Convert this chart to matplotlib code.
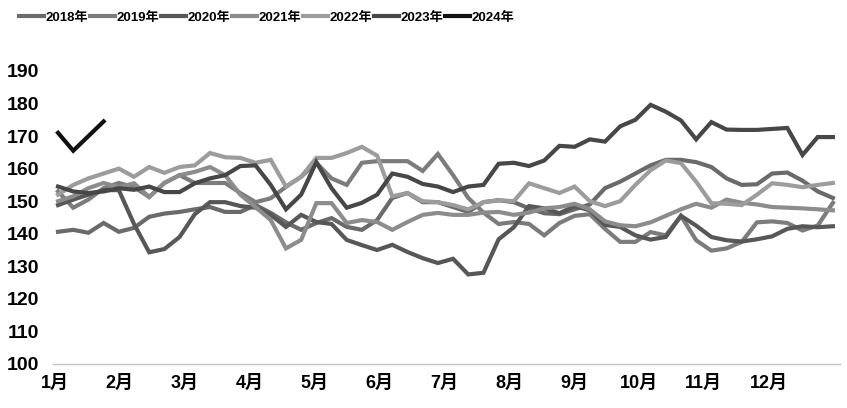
import matplotlib
matplotlib.use("Agg")
import matplotlib.pyplot as plt

plt.rcParams["font.family"] = ["Liberation Sans Narrow", "Liberation Sans", "Noto Sans CJK SC"]
plt.rcParams["font.weight"] = "bold"

# weekly values, week 1..52
weeks = list(range(1, 53))
months = ["1月", "2月", "3月", "4月", "5月", "6月", "7月", "8月", "9月", "10月", "11月", "12月"]

y2018 = [140.6, 141.2, 140.3, 143.3, 140.6, 141.8, 145.2, 146.2, 146.7, 147.5,
         148.2, 146.7, 146.7, 148.8, 146.4, 143.5, 141.2, 143.3, 144.8, 142.1,
         141.2, 144.2, 151.0, 152.5, 149.7, 149.7, 148.2, 146.7, 149.7, 150.3,
         149.7, 147.8, 146.3, 146.0, 147.5, 149.0, 154.0, 156.0, 158.5, 161.0,
         162.7, 162.7, 162.0, 160.5, 157.0, 155.0, 155.2, 158.5, 158.8, 156.3,
         153.0, 151.0]
y2019 = [153.0, 148.0, 150.5, 154.0, 155.6, 154.3, 151.3, 155.6, 158.0, 155.6,
         155.6, 155.6, 152.5, 149.7, 150.9, 154.4, 157.5, 161.8, 157.0, 155.0,
         161.8, 162.3, 162.3, 162.3, 159.3, 164.5, 158.0, 151.0, 146.5, 143.0,
         143.6, 143.0, 139.5, 143.3, 145.5, 146.0, 141.5, 137.5, 137.5, 140.5,
         139.5, 145.5, 138.0, 134.8, 135.5, 137.5, 143.5, 143.8, 143.3, 141.0,
         142.5, 149.5]
y2020 = [148.8, 150.5, 152.0, 153.4, 153.4, 143.0, 134.3, 135.3, 139.0, 146.0,
         149.7, 149.7, 148.5, 148.0, 145.8, 142.1, 145.8, 143.6, 143.0, 138.1,
         136.5, 135.0, 136.6, 134.4, 132.5, 131.0, 132.3, 127.5, 128.0, 138.3,
         142.0, 148.5, 147.8, 146.3, 148.5, 147.2, 142.7, 142.1, 139.5, 138.2,
         139.0, 145.5, 142.5, 139.0, 138.0, 137.6, 138.3, 139.2, 141.5, 142.3,
         142.0, 142.3]
y2021 = [150.0, 151.5, 154.0, 155.6, 154.3, 155.5, 151.3, 155.6, 158.0, 159.0,
         160.5, 158.0, 152.0, 148.2, 144.2, 135.5, 138.1, 149.4, 149.4, 143.3,
         144.2, 143.6, 141.2, 143.6, 145.8, 146.4, 145.8, 145.8, 146.5, 146.7,
         145.8, 146.5, 147.8, 148.2, 149.2, 147.5, 143.8, 142.6, 142.3, 143.5,
         145.5, 147.5, 149.2, 148.0, 150.5, 149.5, 149.0, 148.2, 148.0, 147.8,
         147.5, 147.2]
y2022 = [152.0, 155.0, 157.0, 158.5, 160.0, 157.5, 160.5, 158.7, 160.5, 161.0,
         164.8, 163.5, 163.3, 161.8, 162.7, 154.5, 157.5, 163.3, 163.3, 164.8,
         166.7, 164.0, 151.5, 152.5, 150.0, 149.7, 148.8, 147.5, 149.7, 150.3,
         150.0, 155.5, 154.0, 152.5, 154.5, 150.0, 148.5, 150.0, 155.0, 159.5,
         162.5, 161.7, 156.0, 149.4, 149.2, 148.8, 152.0, 155.5, 155.0, 154.3,
         155.0, 155.6]
y2023 = [154.5, 153.0, 152.5, 153.0, 154.0, 153.5, 154.5, 152.8, 152.8, 155.5,
         157.0, 158.0, 160.8, 161.0, 155.0, 147.5, 152.0, 162.0, 154.0, 148.0,
         149.5, 152.0, 158.5, 157.5, 155.3, 154.5, 152.8, 154.5, 155.0, 161.5,
         161.8, 160.8, 162.5, 167.0, 166.7, 169.0, 168.3, 173.0, 175.0, 179.6,
         177.5, 174.8, 169.0, 174.3, 172.0, 171.9, 171.9, 172.2, 172.5, 164.2,
         169.7, 169.7]
y2024 = [171.0, 165.5, 170.0, 174.5]

series = [
    ("2018年", y2018, "#6a6a6a"),
    ("2019年", y2019, "#7c7c7c"),
    ("2020年", y2020, "#575757"),
    ("2021年", y2021, "#8c8c8c"),
    ("2022年", y2022, "#9c9c9c"),
    ("2023年", y2023, "#474747"),
    ("2024年", y2024, "#111111"),
]

fig = plt.figure(figsize=(8.47, 4.08), dpi=100)
ax = fig.add_axes([0.0626, 0.108, 0.929, 0.718])

for label, vals, color in series:
    ax.plot(weeks[:len(vals)], vals, color=color, lw=3.0, label=label,
            solid_joinstyle="miter")

ax.set_ylim(100, 190)
ax.set_yticks(range(100, 191, 10))
ax.set_xlim(0.67, 52.46)
month_pos = [0.8 + i * 4.27 for i in range(12)]
ax.set_xticks(month_pos)
ax.set_xticklabels(months)

for s in ["top", "right", "left"]:
    ax.spines[s].set_visible(False)
ax.spines["bottom"].set_color("#c4c4c4")
ax.spines["bottom"].set_linewidth(1.0)
ax.tick_params(axis="y", length=0, labelsize=14, colors="black", pad=10)
ax.tick_params(axis="x", length=0, labelsize=13, colors="black", pad=8)

fig.legend(loc="upper left", bbox_to_anchor=(0.008, 1.0), ncol=7, frameon=False,
           handlelength=1.9, handletextpad=0.1, columnspacing=0.15,
           prop={"size": 9.5, "weight": "bold"})

plt.savefig("out.png", dpi=100)
plt.close()
